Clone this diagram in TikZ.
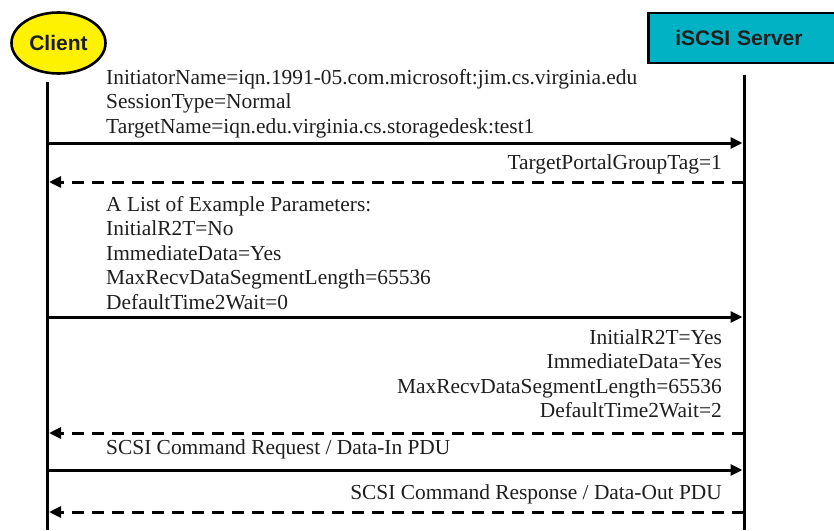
\documentclass[tikz,border=0pt]{standalone}
\usepackage{fontspec}
\setmainfont{Liberation Serif}
\setsansfont{Liberation Sans}
\usepackage{tikz}
\usetikzlibrary{arrows.meta,shapes.geometric}
\definecolor{ink}{HTML}{1E1E1E}
\definecolor{clientfill}{HTML}{FFF200}
\definecolor{serverfill}{HTML}{00B2C4}
\tikzset{
  actor/.style={
    ellipse, draw=black, fill=clientfill, line width=2.6pt,
    minimum width=94pt, minimum height=61pt, inner sep=0pt,
    font=\fontsize{21}{24}\selectfont\sffamily\bfseries\color{ink}},
  hostbox/.style={
    rectangle, draw=black, fill=serverfill, line width=2.6pt,
    minimum height=50pt, text width=160pt, align=left, inner xsep=27pt,
    font=\fontsize{21}{24}\selectfont\sffamily\bfseries\color{ink}},
  lifeline/.style={line width=3pt},
  request/.style={-{Triangle[length=12pt,width=11pt]}, line width=3pt, shorten >=1.5pt},
  reply/.style={request, dash pattern=on 12pt off 8pt},
  note/.style={font=\fontsize{21.4}{24.5}\selectfont\color{ink}, inner sep=0pt},
}

\begin{document}
\begin{tikzpicture}[x=1pt, y=-1pt]
  \useasboundingbox (0,0) rectangle (834,530);

  % the two parties
  \node[actor] (client) at (58.5,43) {Client};
  \node[hostbox, anchor=west] (server) at (647,38) {iSCSI Server};

  % lifelines
  \coordinate (ctop) at (47.5,82);
  \coordinate (cend) at (47.5,530);
  \coordinate (stop) at (744,75);
  \coordinate (send) at (744,530);
  \draw[lifeline] (ctop) -- (cend);
  \draw[lifeline] (stop) -- (send);

  % where each message meets the lifelines
  \foreach \n/\y in {1/143,2/182,3/317,4/433,5/470,6/512}{
    \coordinate (c\n) at (47.5,\y);
    \coordinate (s\n) at (744,\y);
  }

  \draw[request] (c1) -- (s1);
  \draw[reply]   (s2) -- (c2);
  \draw[request] (c3) -- (s3);
  \draw[reply]   (s4) -- (c4);
  \draw[request] (c5) -- (s5);
  \draw[reply]   (s6) -- (c6);

  % login request
  \foreach \t [count=\i] in {InitiatorName=iqn.1991-05.com.microsoft:jim.cs.virginia.edu,
      SessionType=Normal, TargetName=iqn.edu.virginia.cs.storagedesk:test1}
    \node[note, anchor=base west] (login\i) at (106,{59.5+24.5*\i}) {\t};

  % login response
  \node[note, anchor=base east] (portal) at (722,169) {TargetPortalGroupTag=1};

  % proposed parameters
  \foreach \t [count=\i] in {A List of Example Parameters:, InitialR2T=No,
      ImmediateData=Yes, MaxRecvDataSegmentLength=65536, DefaultTime2Wait=0}
    \node[note, anchor=base west] (offer\i) at (106,{186.5+24.5*\i}) {\t};

  % negotiated answer
  \foreach \t [count=\i] in {InitialR2T=Yes, ImmediateData=Yes,
      MaxRecvDataSegmentLength=65536, DefaultTime2Wait=2}
    \node[note, anchor=base east] (answer\i) at (722,{319.5+24.5*\i}) {\t};

  % full feature phase
  \node[note, anchor=base west] (cmd) at (106,454) {SCSI Command Request / Data-In PDU};
  \node[note, anchor=base east] (rsp) at (722,499) {SCSI Command Response / Data-Out PDU};
\end{tikzpicture}
\end{document}
